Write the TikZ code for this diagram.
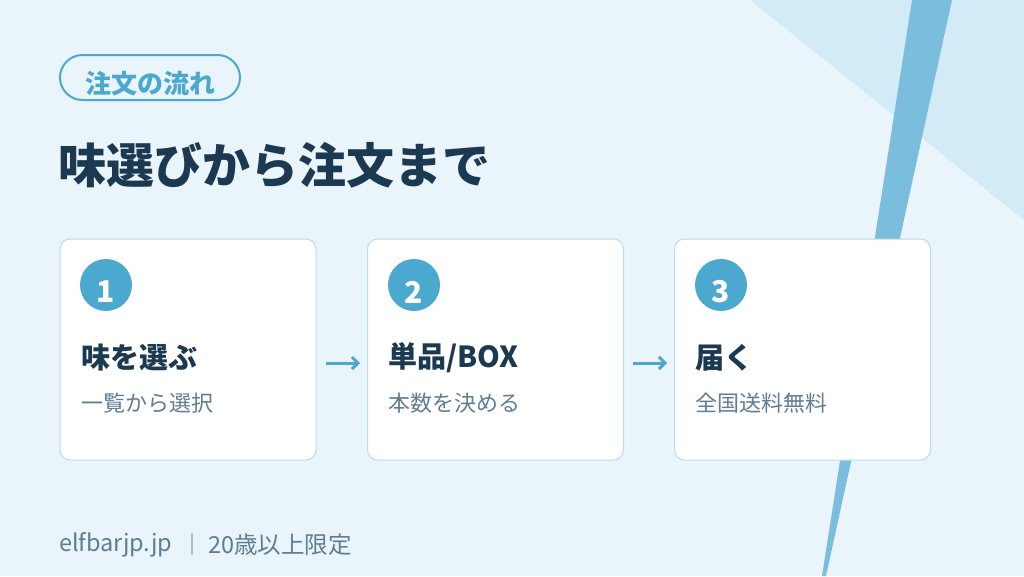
\documentclass[tikz,border=0pt]{standalone}
\usepackage{fontspec}
\setmainfont{Noto Sans CJK JP}
\usetikzlibrary{arrows.meta}
\definecolor{bg}{HTML}{EAF4FB}
\definecolor{tri}{HTML}{D3EAF7}
\definecolor{stripe}{HTML}{7BBDDD}
\definecolor{accent}{HTML}{4BA8CF}
\definecolor{navy}{HTML}{1B3A52}
\definecolor{subgray}{HTML}{5F7D93}
\definecolor{cardline}{HTML}{B8DDF0}
\definecolor{sepline}{HTML}{A9C0CF}
\tikzset{
  pill/.style={draw=accent, line width=2pt, rounded corners=22.5pt, minimum width=180pt, minimum height=45pt, inner sep=0pt},
  pilltext/.style={inner sep=0pt, text=accent, font=\bfseries\fontsize{26}{30}\selectfont},
  card/.style={draw=cardline, line width=1pt, fill=white, rounded corners=10pt, minimum width=256pt, minimum height=221pt, inner sep=0pt},
  badge/.style={circle, fill=accent, minimum size=52pt, inner sep=0pt},
  badgenum/.style={inner sep=0pt, text=white, font=\bfseries\fontsize{30}{30}\selectfont},
  heading/.style={anchor=west, inner sep=0pt, text=navy, font=\bfseries\fontsize{29}{34}\selectfont},
  subtext/.style={anchor=west, inner sep=0pt, text=subgray, font=\fontsize{22}{26}\selectfont},
  flow/.style={draw=accent, line width=3pt, -{Straight Barb[length=6pt,width=12pt]}},
  foot/.style={anchor=west, inner sep=0pt, text=subgray, font=\fontsize{23.5}{28}\selectfont}
}
\begin{document}
\begin{tikzpicture}[x=1pt,y=-1pt]
\fill[bg] (0,0) rectangle (1024,576);
\useasboundingbox (0,0) rectangle (1024,576);
\fill[tri] (750,0) -- (1024,0) -- (1024,220) -- cycle;
\fill[stripe] (912,0) -- (952,0) -- (826,576) -- (822,576) -- cycle;

\node[pill] (tag) at (150,77.5) {};
\node[pilltext] (tagtext) at (150,83.5) {注文の流れ};
\node[anchor=west, inner sep=0pt, text=navy, font=\bfseries\fontsize{48}{56}\selectfont] (title) at (58,165) {味選びから注文まで};

\node[card] (c1) at (188,349.5) {};
\node[card] (c2) at (495.5,349.5) {};
\node[card] (c3) at (802.5,349.5) {};

\node[badge] (n1) at (106,285) {};
\node[badge] (n2) at (414,285) {};
\node[badge] (n3) at (721,285) {};
\node[badgenum] (d1) at (106,292) {1};
\node[badgenum] (d2) at (414,292) {2};
\node[badgenum] (d3) at (721,292) {3};

\node[heading] (h1) at (81,358) {味を選ぶ};
\node[heading] (h2) at (388,358) {単品/BOX};
\node[heading] (h3) at (695,358) {届く};

\node[subtext] (s1) at (81,403) {一覧から選択};
\node[subtext] (s2) at (388,403) {本数を決める};
\node[subtext] (s3) at (695,403) {全国送料無料};

\draw[flow] ([xshift=9pt,yshift=-13.5pt]c1.east) -- ([xshift=-7pt,yshift=-13.5pt]c2.west);
\draw[flow] ([xshift=9pt,yshift=-13.5pt]c2.east) -- ([xshift=-7pt,yshift=-13.5pt]c3.west);

\node[foot] (site) at (59,545) {elfbarjp.jp};
\draw[sepline, line width=1.2pt] (192,533) -- (192,555);
\node[foot] (age) at (208,545) {20歳以上限定};
\end{tikzpicture}
\end{document}
